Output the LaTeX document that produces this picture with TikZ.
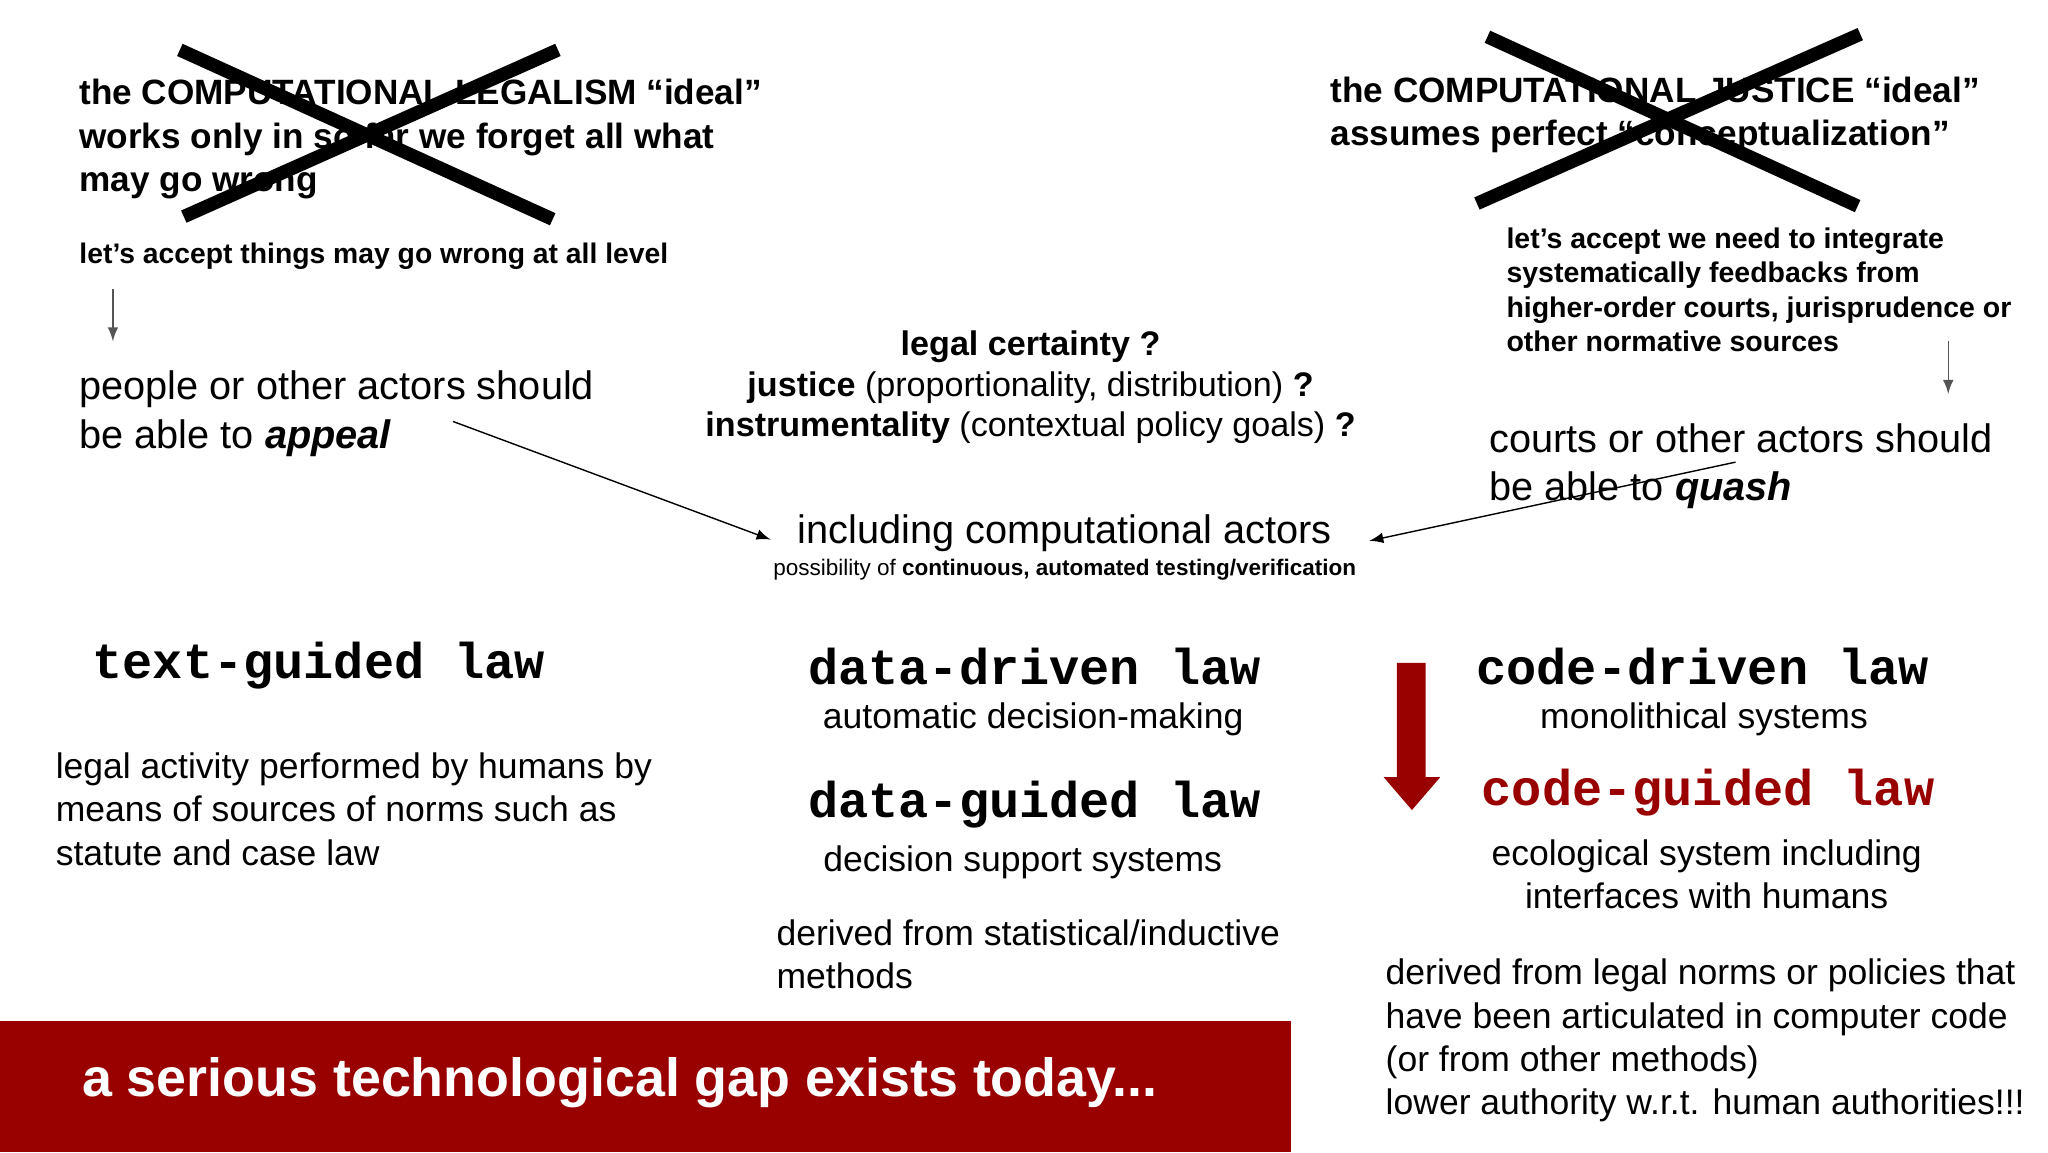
\documentclass[tikz,border=0pt]{standalone}
\usepackage{fontspec}
\setmainfont{Liberation Sans}
\newfontfamily\monob{Liberation Mono}[BoldFont={Liberation Mono Bold}]
\definecolor{darkred}{HTML}{990000}
\definecolor{arrowgray}{HTML}{555555}
\begin{document}
\begin{tikzpicture}[x=0.013128cm,y=-0.013128cm,
  hdr/.style={font=\fontsize{10pt}{12.3pt}\selectfont\bfseries,align=left,inner sep=0},
  small/.style={font=\fontsize{8.05pt}{9.7pt}\selectfont\bfseries,align=left,inner sep=0},
  big/.style={font=\fontsize{11.3pt}{13.8pt}\selectfont,inner sep=0},
  body/.style={font=\fontsize{10.1pt}{12.3pt}\selectfont,inner sep=0},
  mono/.style={font=\fontsize{14.3pt}{15pt}\selectfont\monob\bfseries,inner sep=0},
  cross/.style={line width=3.8pt},
  thinarrow/.style={-latex,line width=0.4pt},
  grayarrow/.style={-latex,arrowgray,line width=0.4pt}]
\useasboundingbox (0,0) rectangle (1560,877.5);
\fill[white] (0,0) rectangle (1560,877.5);
% top left
\node[hdr,anchor=north west,align=left] (tl) at (60,60) {the COMPUTATIONAL LEGALISM “ideal”\\works only in so far we forget all what\\may go wrong};
\draw[cross] (137,38) -- (421,167);
\draw[cross] (425,38) -- (140,165);
\node[small,anchor=west] (tla) at (60,195) {let’s accept things may go wrong at all level};
\coordinate (g1a) at (86,220); \coordinate (g1b) at (86,260);
\draw[grayarrow] (g1a) -- (g1b);
\node[big,anchor=north west,align=left] (appeal) at (60,282) {people or other actors should\\be able to \textbf{\textit{appeal}}};
% center
\node[font=\fontsize{9.7pt}{11.6pt}\selectfont,align=center,inner sep=0] (cent) at (785,295) {\textbf{legal certainty ?}\\\textbf{justice} (proportionality, distribution) \textbf{?}\\\textbf{instrumentality} (contextual policy goals) \textbf{?}};
\node[big] (incl) at (811,406) {including computational actors};
\node[font=\fontsize{6.4pt}{8pt}\selectfont,inner sep=0] (poss) at (811,434) {possibility of \textbf{continuous, automated testing/verification}};
\coordinate (a1) at (345,321); \coordinate (a1e) at (587,411);
\draw[thinarrow] (a1) -- (a1e);
% top right
\node[hdr,anchor=north west,align=left] (tr) at (1013,58) {the COMPUTATIONAL JUSTICE “ideal”\\assumes perfect “conceptualization”};
\draw[cross] (1133,28) -- (1415,157);
\draw[cross] (1417,26) -- (1125,155);
\node[small,anchor=north west,align=left,font=\fontsize{8.1pt}{9.75pt}\selectfont\bfseries] (tra) at (1147,173) {let’s accept we need to integrate\\systematically feedbacks from\\higher-order courts, jurisprudence or\\other normative sources};
\coordinate (g2a) at (1484,260); \coordinate (g2b) at (1484,300);
\draw[grayarrow] (g2a) -- (g2b);
\node[big,anchor=north west,align=left] (quash) at (1134,322) {courts or other actors should\\be able to \textbf{\textit{quash}}};
\coordinate (a2) at (1322,352); \coordinate (a2e) at (1043,412);
\draw[thinarrow] (a2) -- (a2e);
% bottom left
\node[mono,anchor=west] (tg) at (70,507) {text-guided law};
\node[body,anchor=north west,align=left] (tgd) at (42,573) {legal activity performed by humans by\\means of sources of norms such as\\statute and case law};
% bottom center
\node[mono] (dd) at (788,508) {data-driven law};
\node[body] (ddd) at (787,548) {automatic decision-making};
\node[mono] (dg) at (788,613) {data-guided law};
\node[body] (dgd) at (779,657) {decision support systems};
\node[body,anchor=north west,align=left] (dgm) at (591,700) {derived from statistical/inductive\\methods};
% bottom right
\fill[darkred] (1064,505) rectangle (1086,592) (1054,592) -- (1097,592) -- (1075.5,617) -- cycle;
\node[mono] (cd) at (1297,508) {code-driven law};
\node[body] (cdd) at (1298,548) {monolithical systems};
\node[mono,text=darkred] (cg) at (1301,604) {code-guided law};
\node[body,align=center] (cgd) at (1300,666) {ecological system including\\interfaces with humans};
\node[body,anchor=north west,align=left] (cgm) at (1055,730) {derived from legal norms or policies that\\have been articulated in computer code\\(or from other methods)\\lower authority w.r.t. human authorities!!!};
% banner
\fill[darkred] (0,778) rectangle (983,877.5);
\node[font=\fontsize{15.3pt}{17pt}\selectfont\bfseries,text=white,anchor=west,inner sep=0] (ban) at (62,825) {a serious technological gap exists today...};
\end{tikzpicture}
\end{document}
